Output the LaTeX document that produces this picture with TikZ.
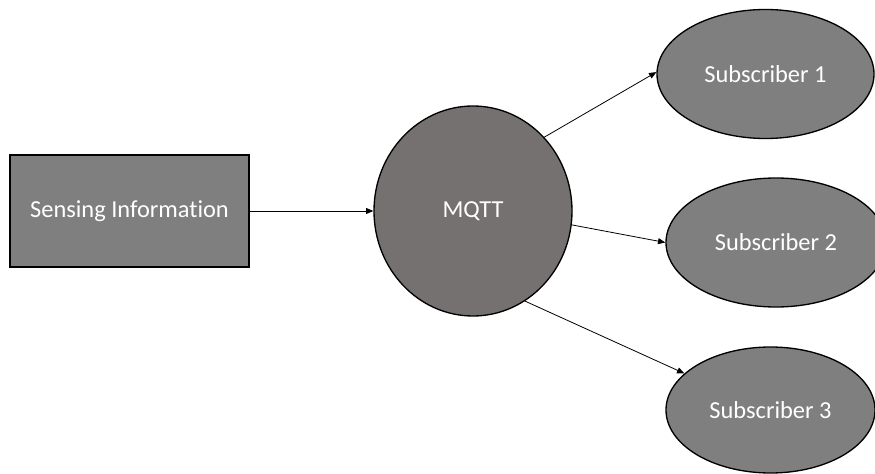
\documentclass[tikz,border=0pt]{standalone}
\usepackage{fontspec}
\setmainfont{Carlito}[Ligatures={NoCommon}]
\usetikzlibrary{shapes.geometric,arrows.meta}
\definecolor{boxgray}{HTML}{7F7F7F}
\definecolor{hubgray}{HTML}{767171}
\tikzset{
  shapebase/.style={draw=black, line width=1pt, text=white, inner sep=0pt,
    font=\fontsize{18.3pt}{21pt}\selectfont},
  sourcebox/.style={shapebase, rectangle, fill=boxgray},
  hubnode/.style={shapebase, ellipse, fill=hubgray},
  subnode/.style={shapebase, ellipse, fill=boxgray},
  link/.style={draw=black, line width=0.6pt, -{Triangle[length=5.5pt,width=4.5pt]}}
}
\begin{document}
\begin{tikzpicture}[x=0.75pt, y=-0.75pt]
  \clip (0,0) rectangle (875,474);
  \fill[white] (0,0) rectangle (875,474);

  \node[sourcebox, minimum width=179.25pt, minimum height=84pt] (sense) at (129.5,211) {Sensing Information};
  \node[hubnode, minimum width=148.5pt, minimum height=157.5pt] (mqtt) at (473,211) {MQTT};
  \node[subnode, minimum width=162.75pt, minimum height=96.75pt] (sub1) at (765.5,74) {Subscriber 1};
  \node[subnode, minimum width=165pt, minimum height=96.75pt] (sub2) at (776,242.5) {Subscriber 2};
  \node[subnode, minimum width=156.75pt, minimum height=94.5pt] (sub3) at (770.5,410) {Subscriber 3};

  \draw[link] (sense.east) -- (mqtt.west);
  \draw[link] (mqtt.46.5) -- (sub1.179);
  \draw[link] (mqtt.-8) -- (sub2.west);
  \draw[link] (mqtt.-60.7) -- (sub3.157);
\end{tikzpicture}
\end{document}
